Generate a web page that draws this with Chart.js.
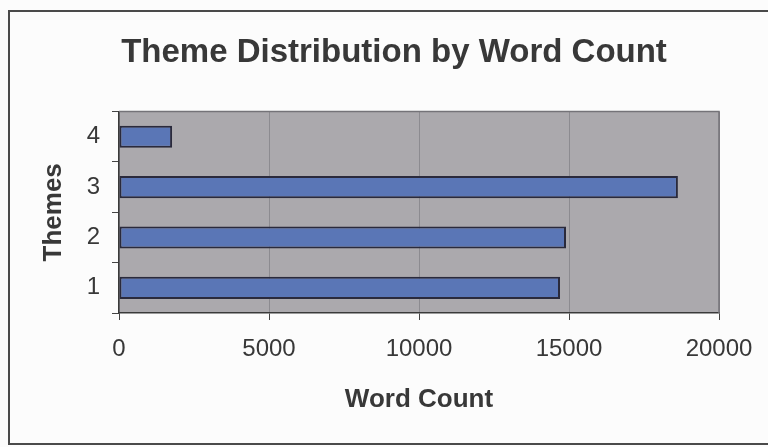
<!DOCTYPE html>
<html>
<head>
<meta charset="utf-8">
<script src="https://cdn.jsdelivr.net/npm/chart.js@4/dist/chart.umd.min.js"></script>
<style>
  html, body { margin: 0; padding: 0; background: #fcfcfc; }
  #wrap { width: 768px; height: 447px; }
</style>
</head>
<body>
<div id="wrap"><canvas id="c" width="768" height="447"></canvas></div>
<script>
// Word count per theme
const themes = ['1', '2', '3', '4'];
const wordCounts = [14700, 14900, 18630, 1770];
const xTicks = [0, 5000, 10000, 15000, 20000];

const FONT = '"Liberation Sans", Arial, Helvetica, sans-serif';
const INK = '#383838';

// Page background, outer frame and the grey plot panel
const panel = {
  id: 'panel',
  beforeDraw(chart) {
    const ctx = chart.ctx;
    const a = chart.chartArea;
    ctx.save();
    ctx.fillStyle = '#fcfcfc';
    ctx.fillRect(0, 0, chart.width, chart.height);
    ctx.strokeStyle = '#4a4a4a';
    ctx.lineWidth = 2;
    ctx.strokeRect(9, 11, 800, 433);
    ctx.fillStyle = '#aba9ad';
    ctx.fillRect(a.left, a.top, a.right - a.left, a.bottom - a.top);
    ctx.restore();
  },
  afterDatasetsDraw(chart) {
    const ctx = chart.ctx;
    const a = chart.chartArea;
    ctx.save();
    ctx.strokeStyle = '#747378';
    ctx.lineWidth = 1.5;
    ctx.beginPath();
    ctx.moveTo(a.left, a.top);
    ctx.lineTo(a.right, a.top);
    ctx.lineTo(a.right, a.bottom);
    ctx.stroke();
    ctx.restore();
  }
};

new Chart(document.getElementById('c'), {
  type: 'bar',
  data: {
    labels: themes,
    datasets: [{
      data: wordCounts,
      backgroundColor: '#5a76b6',
      borderColor: '#2a2a3c',
      borderWidth: 2,
      borderSkipped: false,
      barPercentage: 0.44,
      categoryPercentage: 1
    }]
  },
  options: {
    indexAxis: 'y',
    responsive: false,
    animation: false,
    layout: { padding: { left: 20, right: 0, top: 0, bottom: 0 } },
    plugins: {
      legend: { display: false },
      tooltip: { enabled: false },
      title: {
        display: true,
        text: 'Theme Distribution by Word Count',
        color: INK,
        font: { family: FONT, size: 33, weight: 'bold' },
        padding: { top: 33, bottom: 39 }
      }
    },
    scales: {
      x: {
        min: 0,
        max: 20000,
        afterBuildTicks(scale) { scale.ticks = xTicks.map(v => ({ value: v })); },
        afterFit(scale) { scale.height = 134; scale.paddingRight = 49; },
        ticks: {
          color: INK,
          font: { family: FONT, size: 24 },
          padding: 15,
          maxRotation: 0,
          callback: v => String(v)
        },
        grid: { color: '#8c8b90', lineWidth: 1, tickColor: '#444', tickLength: 7 },
        border: { color: '#3a3a3a', width: 1.5 },
        title: {
          display: true,
          text: 'Word Count',
          color: INK,
          font: { family: FONT, size: 26, weight: 'bold' },
          padding: { top: 0, bottom: 32 }
        }
      },
      y: {
        reverse: true,
        afterFit(scale) { scale.width = 99; },
        ticks: {
          color: INK,
          font: { family: FONT, size: 24 },
          padding: 12
        },
        grid: { color: 'rgba(0,0,0,0)', tickColor: '#444', tickLength: 7 },
        border: { color: '#3a3a3a', width: 1.5 },
        title: {
          display: true,
          text: 'Themes',
          color: INK,
          font: { family: FONT, size: 26, weight: 'bold' },
          padding: { top: 18, bottom: 0 }
        }
      }
    }
  },
  plugins: [panel]
});
</script>
</body>
</html>
